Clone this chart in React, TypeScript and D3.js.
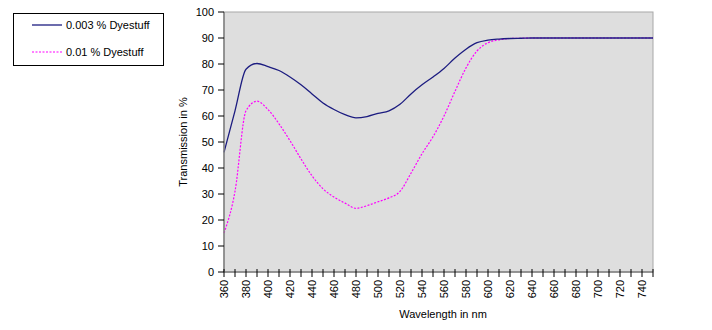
import React from "react";
import * as d3 from "d3";

const wavelengths = [360,370,380,390,400,410,420,430,440,450,460,470,480,490,500,510,520,530,540,550,560,570,580,590,600,610,620,630,640,650,660,670,680,690,700,710,720,730,740,750];
const dye003 = [46,62,78,80.2,79,77.5,75,72,68.5,65,62.5,60.5,59.3,59.8,61,62,64.5,68.5,72,75,78.3,82.3,85.7,88.2,89.2,89.6,89.8,89.9,90,90,90,90,90,90,90,90,90,90,90,90];
const dye001 = [15,31,62,65.7,62.5,57,50.5,43.5,37,32,28.8,26.5,24.5,25.5,27,28.5,31,38,45.5,52,60,69.5,78.5,85,88.2,89.3,89.8,89.9,90,90,90,90,90,90,90,90,90,90,90,90];
const yTicks = [0,10,20,30,40,50,60,70,80,90,100];
const xLabelTicks = d3.range(360, 741, 20);
const seriesNames = ["0.003 % Dyestuff", "0.01 % Dyestuff"];

export default function App() {
  const left = 224, right = 653, top = 12, bottom = 272;
  const x = d3.scaleLinear().domain([360, 750]).range([left, right]);
  const y = d3.scaleLinear().domain([0, 100]).range([bottom, top]);
  const line = d3.line<number>().x((_, i) => x(wavelengths[i])).y(d => y(d)).curve(d3.curveMonotoneX);
  const font = "Liberation Sans, Arial, sans-serif";
  return (
    <svg width={712} height={330} style={{ position: "absolute", left: 0, top: 0, background: "#fff" }} fontFamily={font}>
      <rect x={left} y={top} width={right - left} height={bottom - top} fill="#dedede" stroke="#a8a8a8" strokeWidth={1} />
      <path d={line(dye001) || ""} fill="none" stroke="#ff00ff" strokeWidth={1.2} strokeDasharray="2,1.5" />
      <path d={line(dye003) || ""} fill="none" stroke="#1c1c80" strokeWidth={1.3} />
      <line x1={left} x2={left} y1={top} y2={bottom} stroke="#808080" strokeWidth={1.5} />
      <line x1={left} x2={right} y1={bottom} y2={bottom} stroke="#808080" strokeWidth={1.5} />
      {yTicks.map(t => (
        <g key={t}>
          <line x1={left - 6} x2={left} y1={y(t)} y2={y(t)} stroke="#000" />
          <text x={left - 10} y={y(t)} dy="0.35em" textAnchor="end" fontSize={11} fill="#000">{t}</text>
        </g>
      ))}
      {wavelengths.map(w => (
        <line key={w} x1={x(w)} x2={x(w)} y1={bottom - 3} y2={bottom + 5} stroke="#000" />
      ))}
      {xLabelTicks.map(w => (
        <text key={w} transform={`translate(${x(w)},${bottom + 8}) rotate(-90)`} dy="0.35em" textAnchor="end" fontSize={11} fill="#000">{w}</text>
      ))}
      <text transform={`translate(187,${(top + bottom) / 2}) rotate(-90)`} textAnchor="middle" fontSize={11} fill="#000">Transmission  in %</text>
      <text x={443} y={318} textAnchor="middle" fontSize={11} fill="#000">Wavelength  in nm</text>
      <rect x={13.5} y={13.5} width={150} height={52} fill="#fff" stroke="#000" strokeWidth={1} />
      <line x1={32} x2={62} y1={25} y2={25} stroke="#1c1c80" strokeWidth={1.3} />
      <text x={66} y={25} dy="0.35em" fontSize={11} fill="#000">{seriesNames[0]}</text>
      <line x1={32} x2={62} y1={52} y2={52} stroke="#ff00ff" strokeWidth={1.2} strokeDasharray="2,1.5" />
      <text x={66} y={52} dy="0.35em" fontSize={11} fill="#000">{seriesNames[1]}</text>
    </svg>
  );
}
